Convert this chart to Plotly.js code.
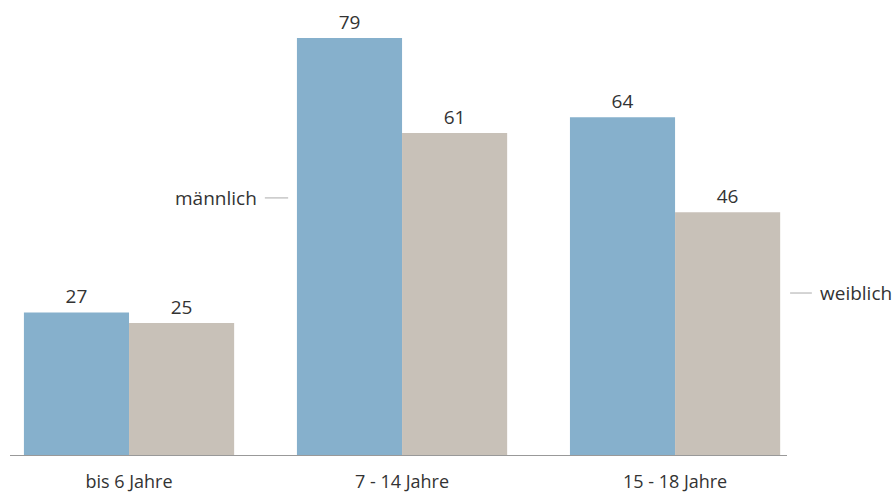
<!DOCTYPE html>
<html><head><meta charset="utf-8">
<script src="https://cdn.plot.ly/plotly-3.0.1.min.js"></script>
<style>html,body{margin:0;padding:0;background:#fff}#c{width:893px;height:496px}</style>
</head><body><div id="c"></div>
<script>
const categories = ["bis 6 Jahre", "7 - 14 Jahre", "15 - 18 Jahre"];
const maleValues = [27, 79, 64];
const femaleValues = [25, 61, 46];
const seriesNames = ["männlich", "weiblich"];

const font = {family: "Open Sans, sans-serif", size: 19, color: "#333333"};
const tickFont = {family: "Open Sans, sans-serif", size: 18, color: "#333333"};
const traces = [
  {type: "bar", x: categories, y: maleValues, name: seriesNames[0], marker: {color: "#86b0cc"},
   text: maleValues.map(String), textposition: "outside", cliponaxis: false, textfont: font, hoverinfo: "none"},
  {type: "bar", x: categories, y: femaleValues, name: seriesNames[1], marker: {color: "#c8c1b8"},
   text: femaleValues.map(String), textposition: "outside", cliponaxis: false, textfont: font, hoverinfo: "none"}
];
const layout = {
  width: 893, height: 496,
  margin: {l: 10, r: 106, t: 0, b: 41},
  paper_bgcolor: "#fff", plot_bgcolor: "#fff",
  showlegend: false,
  barmode: "group", bargap: 0.23, bargroupgap: 0,
  font: font,
  xaxis: {type: "category", range: [-0.436, 2.41], showgrid: false, zeroline: false,
    showline: true, linecolor: "#999999", linewidth: 1,
    ticks: "outside", ticklen: 10, tickcolor: "rgba(0,0,0,0)", tickfont: tickFont},
  yaxis: {range: [0, 86.2], visible: false, showgrid: false, zeroline: false},
  shapes: [
    {type: "line", xref: "paper", yref: "paper", x0: 0.328, x1: 0.358, y0: 0.565, y1: 0.565, line: {color: "#aaaaaa", width: 1}},
    {type: "line", xref: "paper", yref: "paper", x0: 1.004, x1: 1.032, y0: 0.356, y1: 0.356, line: {color: "#aaaaaa", width: 1}}
  ],
  annotations: [
    {xref: "paper", yref: "paper", x: 0.3205, y: 0.565, xanchor: "right", yanchor: "middle", text: seriesNames[0], showarrow: false, font: font},
    {xref: "paper", yref: "paper", x: 1.04, y: 0.356, xanchor: "left", yanchor: "middle", text: seriesNames[1], showarrow: false, font: font}
  ]
};
Plotly.newPlot("c", traces, layout, {displayModeBar: false, staticPlot: true});
</script></body></html>
